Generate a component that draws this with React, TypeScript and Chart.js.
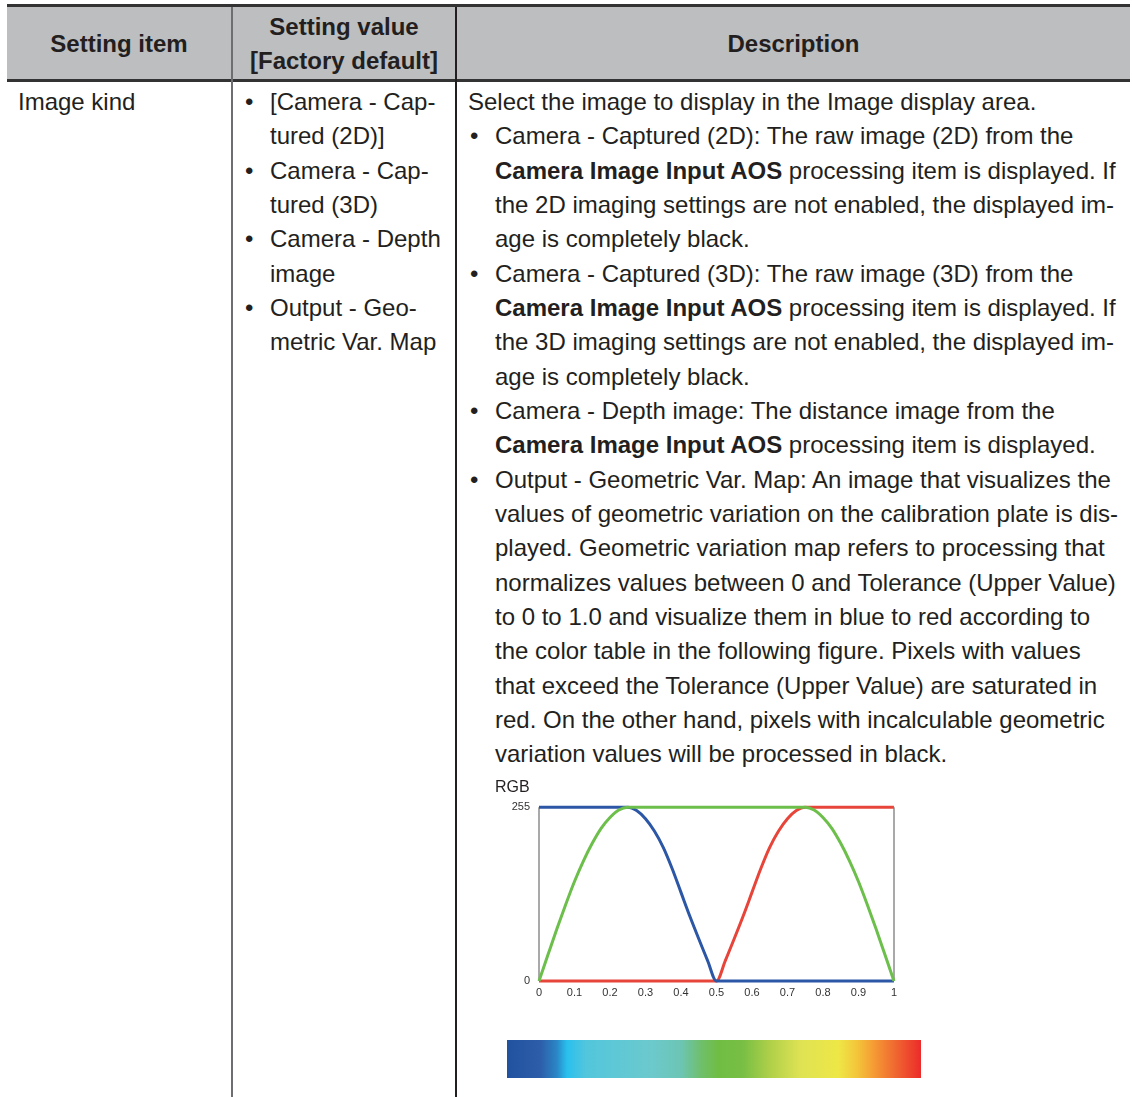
import React, { useEffect, useRef } from "react";
import { Chart, registerables } from "chart.js";

Chart.register(...registerables);

// ---- chart data ----
const xValues = [
  0, 0.025, 0.05, 0.075, 0.1, 0.125, 0.15, 0.175, 0.2, 0.225, 0.25,
  0.275, 0.3, 0.325, 0.35, 0.375, 0.4, 0.425, 0.45, 0.475, 0.5,
  0.525, 0.55, 0.575, 0.6, 0.625, 0.65, 0.675, 0.7, 0.725, 0.75,
  0.775, 0.8, 0.825, 0.85, 0.875, 0.9, 0.925, 0.95, 0.975, 1,
];
const blueValues = [
  255, 255, 255, 255, 255, 255, 255, 255, 255, 255, 255,
  250, 238, 220, 196, 165, 130, 95, 62, 30, 0,
  0, 0, 0, 0, 0, 0, 0, 0, 0, 0,
  0, 0, 0, 0, 0, 0, 0, 0, 0, 0,
];
const greenValues = [
  0, 38, 76, 112, 146, 176, 202, 224, 240, 251, 255,
  255, 255, 255, 255, 255, 255, 255, 255, 255, 255,
  255, 255, 255, 255, 255, 255, 255, 255, 255, 255,
  251, 240, 224, 202, 176, 146, 112, 76, 38, 0,
];
const redValues = [
  0, 0, 0, 0, 0, 0, 0, 0, 0, 0, 0,
  0, 0, 0, 0, 0, 0, 0, 0, 0, 0,
  30, 62, 95, 130, 165, 196, 220, 238, 250, 255,
  255, 255, 255, 255, 255, 255, 255, 255, 255, 255,
];
const yTickValues = [0, 255];
const xTickValues = [0, 0.1, 0.2, 0.3, 0.4, 0.5, 0.6, 0.7, 0.8, 0.9, 1];
const yAxisTitle = "RGB";

// ---- table text ----
const headerItem = "Setting item";
const headerValue = ["Setting value", "[Factory default]"];
const headerDesc = "Description";
const itemName = "Image kind";
const valueBullets = [
  ["[Camera - Cap-", "tured (2D)]"],
  ["Camera - Cap-", "tured (3D)"],
  ["Camera - Depth", "image"],
  ["Output - Geo-", "metric Var. Map"],
];
const descIntro = "Select the image to display in the Image display area.";
const BOLD = "Camera Image Input AOS";
const descBullets: string[][] = [
  [
    "Camera - Captured (2D): The raw image (2D) from the",
    "**processing item is displayed. If",
    "the 2D imaging settings are not enabled, the displayed im-",
    "age is completely black.",
  ],
  [
    "Camera - Captured (3D): The raw image (3D) from the",
    "**processing item is displayed. If",
    "the 3D imaging settings are not enabled, the displayed im-",
    "age is completely black.",
  ],
  [
    "Camera - Depth image: The distance image from the",
    "**processing item is displayed.",
  ],
  [
    "Output - Geometric Var. Map: An image that visualizes the",
    "values of geometric variation on the calibration plate is dis-",
    "played. Geometric variation map refers to processing that",
    "normalizes values between 0 and Tolerance (Upper Value)",
    "to 0 to 1.0 and visualize them in blue to red according to",
    "the color table in the following figure. Pixels with values",
    "that exceed the Tolerance (Upper Value) are saturated in",
    "red. On the other hand, pixels with incalculable geometric",
    "variation values will be processed in black.",
  ],
];

const TEXT = "#231f20";
const LH = 34.35;
const FONT = '"Liberation Sans", Arial, Helvetica, sans-serif';

function renderLine(s: string) {
  if (s.startsWith("**")) {
    return (
      <>
        <b>{BOLD}</b> {s.slice(2)}
      </>
    );
  }
  return s;
}

function RGBChart() {
  const ref = useRef<HTMLCanvasElement | null>(null);
  useEffect(() => {
    if (!ref.current) return;
    const mk = (vals: number[]) => xValues.map((x, i) => ({ x, y: vals[i] }));
    const chart = new Chart(ref.current, {
      type: "line",
      data: {
        datasets: [
          { label: "G", data: mk(greenValues), borderColor: "#6cbf4a" },
          { label: "B", data: mk(blueValues), borderColor: "#2c56a6" },
          { label: "R", data: mk(redValues), borderColor: "#e8453a" },
        ].map((d) => ({
          ...d,
          borderWidth: 3,
          pointRadius: 0,
          cubicInterpolationMode: "monotone" as const,
          clip: 6,
          fill: false,
        })),
      },
      options: {
        animation: false,
        responsive: false,
        maintainAspectRatio: false,
        layout: { padding: { left: 0, right: 6, top: 0, bottom: 0 } },
        plugins: {
          legend: { display: false },
          tooltip: { enabled: false },
          title: {
            display: true,
            text: yAxisTitle,
            align: "start",
            color: "#231f20",
            font: { family: FONT, size: 16, weight: "normal" },
            padding: { top: 8, bottom: 10 },
          },
        },
        scales: {
          x: {
            type: "linear",
            min: 0,
            max: 1,
            afterBuildTicks: (s: any) => {
              s.ticks = xTickValues.map((v) => ({ value: v }));
            },
            afterFit: (s: any) => {
              s.height = 24;
            },
            ticks: {
              padding: 5,
              color: "#333",
              font: { family: FONT, size: 11 },
              callback: (v: any) => String(v),
            },
            grid: {
              drawTicks: false,
              lineWidth: 2,
              color: (ctx: any) =>
                ctx.tick && (ctx.tick.value === 0 || ctx.tick.value === 1)
                  ? "#a9a9a9"
                  : "rgba(0,0,0,0)",
            },
            border: { display: false },
          },
          y: {
            type: "linear",
            min: 0,
            max: 255,
            afterBuildTicks: (s: any) => {
              s.ticks = yTickValues.map((v) => ({ value: v }));
            },
            afterFit: (s: any) => {
              s.width = 44;
            },
            ticks: {
              padding: 9,
              color: "#333",
              font: { family: FONT, size: 11 },
            },
            grid: { display: false, drawTicks: false },
            border: { display: false },
          },
        },
      },
    });
    return () => chart.destroy();
  }, []);
  return (
    <canvas
      ref={ref}
      width={407}
      height={235}
      style={{ position: "absolute", left: 495, top: 770, width: 407, height: 235 }}
    />
  );
}

function Bullet({ x, textX, top, lines }: { x: number; textX: number; top: number; lines: any[] }) {
  return (
    <>
      <div style={{ position: "absolute", left: x, top, lineHeight: `${LH}px` }}>•</div>
      {lines.map((l, i) => (
        <div
          key={i}
          style={{ position: "absolute", left: textX, top: top + i * LH, lineHeight: `${LH}px`, whiteSpace: "nowrap" }}
        >
          {renderLine(l)}
        </div>
      ))}
    </>
  );
}

export default function App() {
  const bodyTop = 84.8;
  let vIdx = 0;
  const valueEls = valueBullets.map((b, i) => {
    const el = <Bullet key={i} x={245} textX={270} top={bodyTop + vIdx * LH} lines={b} />;
    vIdx += b.length;
    return el;
  });
  let dIdx = 1;
  const descEls = descBullets.map((b, i) => {
    const el = <Bullet key={i} x={470} textX={495} top={bodyTop + dIdx * LH} lines={b} />;
    dIdx += b.length;
    return el;
  });

  return (
    <div
      style={{
        position: "absolute",
        left: 0,
        top: 0,
        width: 1132,
        height: 1097,
        overflow: "hidden",
        background: "#fff",
        fontFamily: FONT,
        fontSize: 24,
        color: TEXT,
      }}
    >
      {/* header background and borders */}
      <div style={{ position: "absolute", left: 7, top: 7, width: 1123, height: 72, background: "#bcbec0" }} />
      <div style={{ position: "absolute", left: 7, top: 4, width: 1123, height: 3, background: "#333" }} />
      <div style={{ position: "absolute", left: 7, top: 79, width: 1123, height: 3, background: "#333" }} />
      <div style={{ position: "absolute", left: 231, top: 7, width: 2, height: 1090, background: "#6d6e71" }} />
      <div style={{ position: "absolute", left: 455, top: 7, width: 2, height: 1090, background: "#231f20" }} />

      {/* header text */}
      <div style={{ position: "absolute", left: 7, width: 224, top: 27.3, textAlign: "center", fontWeight: "bold", lineHeight: "34px" }}>
        {headerItem}
      </div>
      <div style={{ position: "absolute", left: 233, width: 222, top: 10.3, textAlign: "center", fontWeight: "bold", lineHeight: "34px" }}>
        {headerValue[0]}
        <br />
        {headerValue[1]}
      </div>
      <div style={{ position: "absolute", left: 457, width: 673, top: 27.3, textAlign: "center", fontWeight: "bold", lineHeight: "34px" }}>
        {headerDesc}
      </div>

      {/* body */}
      <div style={{ position: "absolute", left: 18, top: bodyTop, lineHeight: `${LH}px` }}>{itemName}</div>
      {valueEls}
      <div style={{ position: "absolute", left: 468, top: bodyTop, lineHeight: `${LH}px`, whiteSpace: "nowrap" }}>{descIntro}</div>
      {descEls}

      <RGBChart />

      {/* color table */}
      <div
        style={{
          position: "absolute",
          left: 507,
          top: 1040,
          width: 414,
          height: 38,
          background:
            "linear-gradient(to right, #2152a0 0%, #2d5da8 8%, #2a86c6 12%, #29c0ee 14.5%, #52c6dc 19%, #5ec8d6 26%, #6cc9cc 35%, #6cc5b4 42%, #6fbf6a 47%, #70bd44 51%, #78bf44 57%, #b3d14a 64%, #dfe353 71%, #eee747 80%, #f3c63a 84.5%, #f59c34 88.5%, #ef6630 94%, #ec2b2a 100%)",
        }}
      />
    </div>
  );
}
